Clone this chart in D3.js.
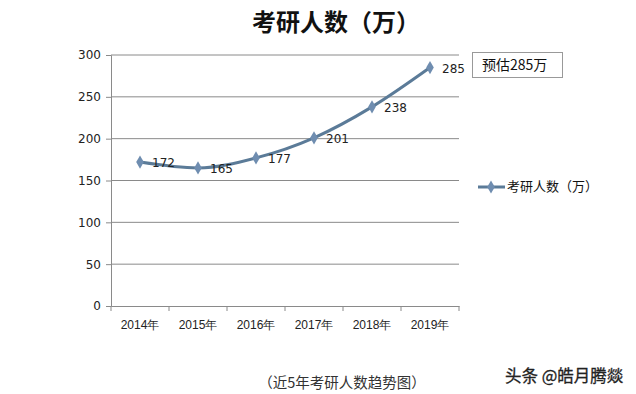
<!DOCTYPE html>
<html>
<head>
<meta charset="utf-8">
<title>考研人数</title>
<style>
  body { margin: 0; background: #fff; }
  svg { display: block; font-family: "Noto Sans CJK SC", "DejaVu Sans", sans-serif; }
</style>
</head>
<body>
<script src="https://d3js.org/d3.v7.min.js"></script>
<svg id="chart" width="636" height="394"></svg>
<script>
// data
var years = ["2014年", "2015年", "2016年", "2017年", "2018年", "2019年"];
var counts = [172, 165, 177, 201, 238, 285];
var yTicks = [0, 50, 100, 150, 200, 250, 300];
var seriesName = "考研人数（万）";

var svg = d3.select("#chart");
var lineColor = "#5b7b98";

var x = d3.scaleBand().domain(years).range([111, 459]);
var y = d3.scaleLinear().domain([0, 300]).range([306, 55]);

// title
svg.append("text")
  .attr("x", 336).attr("y", 31)
  .attr("text-anchor", "middle")
  .attr("font-size", 24).attr("font-weight", "bold")
  .attr("fill", "#111")
  .text("考研人数（万）");

// gridlines
svg.append("g").selectAll("line")
  .data(yTicks.filter(function(d) { return d > 0; }))
  .enter().append("line")
  .attr("x1", 111).attr("x2", 459)
  .attr("y1", function(d) { return y(d); })
  .attr("y2", function(d) { return y(d); })
  .attr("stroke", "#8a8a8a").attr("stroke-width", 1);

// y axis
var yAxis = svg.append("g")
  .attr("transform", "translate(111,0)")
  .call(d3.axisLeft(y).tickValues(yTicks).tickSize(5).tickPadding(5));
yAxis.select(".domain").attr("stroke", "#8a8a8a");
yAxis.selectAll(".tick line").attr("stroke", "#8a8a8a");
yAxis.selectAll("text").attr("font-size", 12).attr("fill", "#222")
  .attr("font-family", "DejaVu Sans, sans-serif");

// x axis
var xAxis = svg.append("g")
  .attr("transform", "translate(0,306)")
  .call(d3.axisBottom(x).tickSize(0).tickPadding(14));
xAxis.select(".domain").attr("stroke", "#8a8a8a");
xAxis.selectAll("text").attr("font-size", 12).attr("fill", "#222");
// band boundary ticks
svg.append("g").selectAll("line")
  .data(years.concat(["end"]))
  .enter().append("line")
  .attr("x1", function(d, i) { return 111 + i * x.step(); })
  .attr("x2", function(d, i) { return 111 + i * x.step(); })
  .attr("y1", 306).attr("y2", 311)
  .attr("stroke", "#8a8a8a");

// line
var cx = function(d, i) { return x(years[i]) + x.bandwidth() / 2; };
var line = d3.line()
  .x(cx)
  .y(function(d) { return y(d); })
  .curve(d3.curveMonotoneX);

svg.append("path")
  .datum(counts)
  .attr("fill", "none")
  .attr("stroke", lineColor)
  .attr("stroke-width", 3)
  .attr("d", line);

var diamond = d3.symbol().type(d3.symbolDiamond).size(50);
svg.append("g").selectAll("path")
  .data(counts).enter().append("path")
  .attr("d", diamond)
  .attr("transform", function(d, i) { return "translate(" + cx(d, i) + "," + y(d) + ")"; })
  .attr("fill", "#6f8db0");

svg.append("g").selectAll("text")
  .data(counts).enter().append("text")
  .attr("x", function(d, i) { return cx(d, i) + 12; })
  .attr("y", function(d) { return y(d) + 5; })
  .attr("font-size", 12).attr("fill", "#222")
  .attr("font-family", "DejaVu Sans, sans-serif")
  .text(function(d) { return d; });

// annotation box
svg.append("rect")
  .attr("x", 472.5).attr("y", 52.5).attr("width", 90).attr("height", 25)
  .attr("fill", "#fff").attr("stroke", "#999");
svg.append("text")
  .attr("x", 482).attr("y", 70)
  .attr("font-size", 14).attr("fill", "#111")
  .text("预估" + counts[counts.length - 1] + "万");

// legend
svg.append("line")
  .attr("x1", 478).attr("x2", 505).attr("y1", 187).attr("y2", 187)
  .attr("stroke", lineColor).attr("stroke-width", 3);
svg.append("path")
  .attr("d", diamond)
  .attr("transform", "translate(491,187)")
  .attr("fill", "#6f8db0");
svg.append("text")
  .attr("x", 507).attr("y", 191)
  .attr("font-size", 13).attr("fill", "#111")
  .text(seriesName);

// caption
svg.append("text")
  .attr("x", 342).attr("y", 388)
  .attr("text-anchor", "middle")
  .attr("font-size", 14.5).attr("fill", "#333")
  .text("（近5年考研人数趋势图）");

// watermark
svg.append("text")
  .attr("x", 505).attr("y", 382)
  .attr("font-size", 16.5).attr("fill", "#222")
  .attr("stroke", "#222").attr("stroke-width", 0.3)
  .text("头条 @皓月腾燚");
</script>
</body>
</html>
